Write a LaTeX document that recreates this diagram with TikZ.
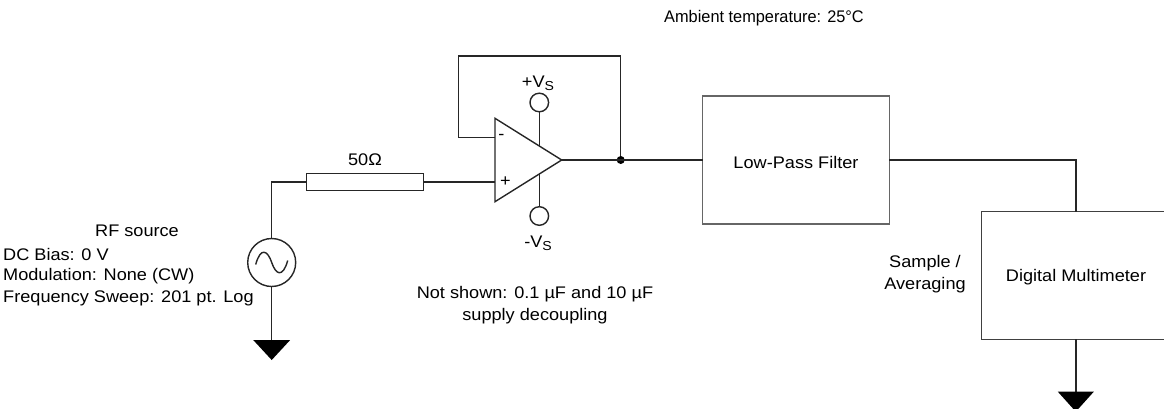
\documentclass[tikz,border=0pt]{standalone}
\usepackage{fontspec}
\setmainfont{Liberation Sans}[FakeStretch=1.08]
\begin{document}
\begin{tikzpicture}[x=1pt,y=-1pt,
  wire/.style={line width=1.4pt, black!85},
  box/.style={draw=black!60, line width=1.3pt, rectangle, inner sep=0pt, outer sep=0pt},
  lbl/.style={inner sep=0pt, font=\fontsize{16.8}{22}\selectfont},
  ring/.style={draw=black!85, line width=1.4pt, circle, inner sep=0pt, outer sep=0pt, fill=white}
]
\useasboundingbox (0,0) rectangle (1164,409);
\newcommand{\subS}{\raisebox{-0.35ex}{\fontsize{13}{13}\selectfont S}}
% source
\node[ring, minimum size=48pt] (src) at (271.7,262.5) {};
\draw[line width=1.4pt, black!85] ([xshift=-16pt,yshift=-2pt]src.center) .. controls ([xshift=-11pt,yshift=16pt]src.center) and ([xshift=-4pt,yshift=12pt]src.center) .. (src.center)
  .. controls ([xshift=4pt,yshift=-12pt]src.center) and ([xshift=11pt,yshift=-16pt]src.center) .. ([xshift=16pt,yshift=2pt]src.center);
% resistor
\node[draw=black!85, line width=1.4pt, rectangle, minimum width=116.6pt, minimum height=16.7pt, inner sep=0pt, outer sep=0pt] (res) at (365,182) {};
\node[lbl] (rlab) at (365,160) {50Ω};
% opamp
\coordinate (tl) at (495,118.3);
\coordinate (bl) at (495,201.7);
\coordinate (tip) at (561.7,160);
\coordinate (inm) at (495,137.3);
\coordinate (inp) at (495,182);
\draw[wire, line join=miter] (tl) -- (tip) -- (bl) -- cycle;
\node[lbl] (minus) at (501.5,137) {-};
\node[lbl] (plus) at (505.5,182) {+};
% supplies
\node[ring, minimum size=18.6pt] (vp) at (539.3,102.5) {};
\node[ring, minimum size=18.6pt] (vm) at (539.3,216) {};
\coordinate (vpin) at (539.3,146);
\coordinate (vmin) at (539.3,174);
\draw[wire] (vp.south) -- (vpin);
\draw[wire] (vmin) -- (vm.north);
\node[lbl] (vplab) at (538,83) {+V\subS};
\node[lbl] (vmlab) at (538,243) {-V\subS};
% feedback
\coordinate (fb1) at (458.3,137.3);
\coordinate (fb2) at (458.3,56);
\coordinate (fb3) at (620.7,56);
\coordinate (junc) at (620.7,160);
\draw[wire] (inm) -- (fb1) -- (fb2) -- (fb3) -- (junc);
\fill[black] (junc) circle (4pt);
% input wiring
\coordinate (srctop) at (271.7,182);
\draw[wire] (src.north) -- (srctop) -- (res.west);
\draw[wire] (res.east) -- (inp);
% ground 1
\coordinate (g1) at (271.7,340);
\draw[wire] (src.south) -- (g1);
\fill[black] ([xshift=-18.5pt]g1) -- ([xshift=18.5pt]g1) -- ([yshift=-20pt]g1) -- cycle;
% filter
\node[box, minimum width=186.6pt, minimum height=128pt] (lpf) at (796,160) {};
\node[lbl] (lpflab) at (796,162) {Low-Pass Filter};
\draw[wire] (tip) -- (lpf.west);
% multimeter
\node[box, draw=black!75, minimum width=188.3pt, minimum height=127.6pt] (dmm) at (1075.8,275.5) {};
\node[lbl] (dmmlab) at (1076,277) {Digital Multimeter};
\coordinate (corner) at (1075.8,160);
\draw[wire] (lpf.east) -- (corner) -- (dmm.north);
\coordinate (g2) at (1075.8,391.7);
\draw[wire] (dmm.south) -- (g2);
\fill[black] ([xshift=-18pt]g2) -- ([xshift=18pt]g2) -- ([yshift=-20pt]g2) -- cycle;
% texts
\node[lbl] (amb) at (764,18) {\scalebox{0.9}[1]{Ambient temperature: 25°C}};
\node[lbl, align=center] (samp) at (925,274) {Sample /\\Averaging};
\node[lbl] (rfsrc) at (137,231) {RF source};
\node[lbl, anchor=west] (dcb) at (3,254) {DC Bias: 0 V};
\node[lbl, anchor=west] (mod) at (3,276) {Modulation: None (CW)};
\node[lbl, anchor=west] (fsw) at (3,298) {Frequency Sweep: 201 pt. Log};
\node[lbl, align=center] (note) at (535,305) {Not shown: 0.1 µF and 10 µF\\supply decoupling};
\end{tikzpicture}
\end{document}
